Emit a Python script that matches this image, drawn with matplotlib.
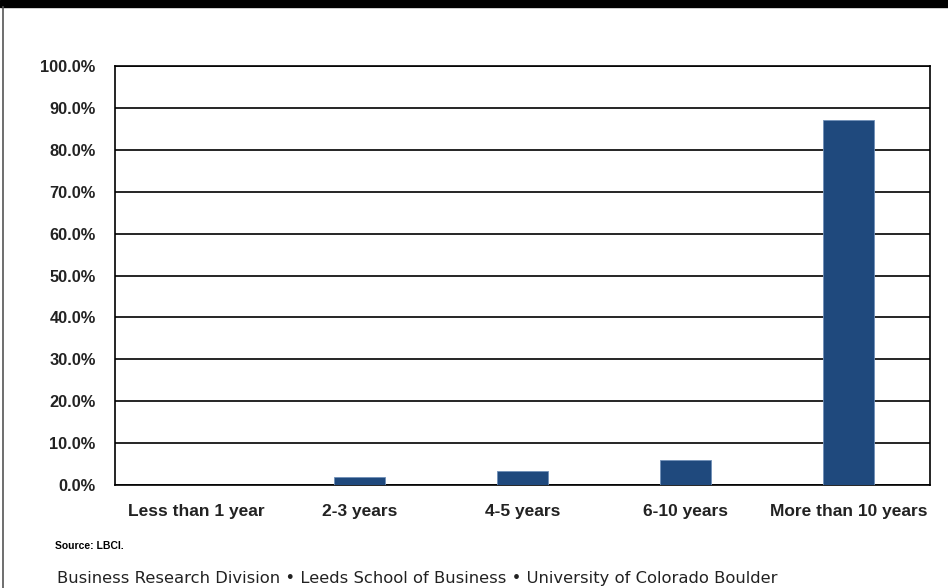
import matplotlib.pyplot as plt
from matplotlib.ticker import PercentFormatter
from matplotlib import font_manager

categories = ["Less than 1 year", "2-3 years", "4-5 years", "6-10 years", "More than 10 years"]
shares = [0.0, 1.9, 3.3, 5.9, 87.0]
yticks = [0, 10, 20, 30, 40, 50, 60, 70, 80, 90, 100]

names = {f.name for f in font_manager.fontManager.ttflist}
narrow = "Liberation Sans Narrow" if "Liberation Sans Narrow" in names else "Liberation Sans"
foot_font = "DejaVu Sans Condensed" if "DejaVu Sans Condensed" in names else "DejaVu Sans"

fig = plt.figure(figsize=(9.48, 5.88), dpi=100)

# black strip on top and thin frame on the left
fig.patches.append(plt.Rectangle((0, 1 - 7 / 588), 1, 7 / 588, transform=fig.transFigure,
                                 color="black", zorder=0))
fig.lines.append(plt.Line2D([3 / 948, 3 / 948], [0, 1 - 7 / 588], transform=fig.transFigure,
                            color="#555555", lw=1.2))

ax = fig.add_axes([115 / 948, (588 - 485) / 588, 815 / 948, 419 / 588])
x = range(len(categories))
ax.bar(x, shares, width=0.31, color="#1F497D", edgecolor="#6f8fb8", linewidth=0.6, zorder=3)

ax.set_xlim(-0.5, len(categories) - 0.5)
ax.set_ylim(0, 100)
ax.set_yticks(yticks)
ax.yaxis.set_major_formatter(PercentFormatter(decimals=1))
ax.grid(axis="y", color="black", linewidth=1.2, zorder=0)
ax.set_xticks(list(x))
ax.set_xticklabels(categories)
ax.tick_params(axis="both", length=0)
ax.tick_params(axis="x", pad=14)
ax.tick_params(axis="y", pad=14)
for lab in ax.get_yticklabels():
    lab.set_fontfamily(narrow)
    lab.set_fontweight("bold")
    lab.set_fontsize(11.8)
    lab.set_color("#222222")
for lab in ax.get_xticklabels():
    lab.set_fontfamily(narrow)
    lab.set_fontweight("bold")
    lab.set_fontsize(12.5)
    lab.set_color("#222222")
for s in ax.spines.values():
    s.set_color("black")
    s.set_linewidth(1.2)

fig.text(55 / 948, 1 - 546 / 588, "Source: LBCI.", fontsize=7.5, fontweight="bold",
         family=narrow, va="center", ha="left")
fig.text(57 / 948, 1 - 578 / 588,
         "Business Research Division \u2022 Leeds School of Business \u2022 University of Colorado Boulder",
         fontsize=11.8, family=foot_font, va="center", ha="left", color="#222222")

fig.savefig("out.png", dpi=100)
